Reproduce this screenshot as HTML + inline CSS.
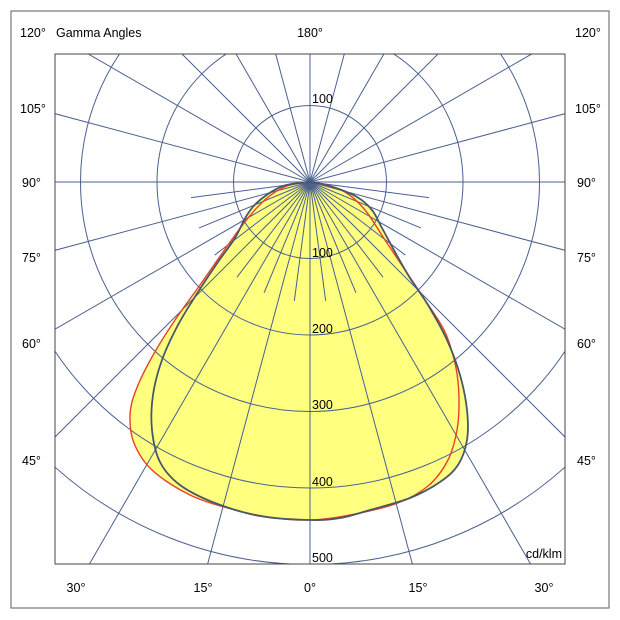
<!DOCTYPE html>
<html><head><meta charset="utf-8"><style>
html,body{margin:0;padding:0;background:#fff;overflow:hidden;width:620px;height:620px;}
svg{display:block;position:absolute;left:0;top:0;}
text{font-family:"Liberation Sans",Arial,sans-serif;font-size:12.5px;fill:#000;}
</style></head><body>
<svg id="s" width="620" height="620" xmlns="http://www.w3.org/2000/svg">
<rect x="11" y="11" width="598" height="597" fill="#fff" stroke="#777" stroke-width="1.2"/>
<defs><clipPath id="c"><rect x="55" y="54" width="510" height="510"/></clipPath></defs>
<g id="fill" clip-path="url(#c)"></g>
<g id="grid" clip-path="url(#c)" stroke="#4a6190" stroke-width="1" fill="none"></g>
<g id="curves" clip-path="url(#c)" fill="none"></g>
<rect x="55" y="54" width="510" height="510" fill="none" stroke="#444" stroke-width="1"/>
<text x="20" y="37">120°</text><text x="56" y="37">Gamma Angles</text>
<text x="310" y="37" text-anchor="middle">180°</text>
<text x="575" y="37">120°</text>
<text x="20" y="113">105°</text><text x="575" y="113">105°</text>
<text x="22" y="187">90°</text><text x="577" y="187">90°</text>
<text x="22" y="262">75°</text><text x="577" y="262">75°</text>
<text x="22" y="348">60°</text><text x="577" y="348">60°</text>
<text x="22" y="465">45°</text><text x="577" y="465">45°</text>
<text x="76" y="592" text-anchor="middle">30°</text>
<text x="203" y="592" text-anchor="middle">15°</text>
<text x="310" y="592" text-anchor="middle">0°</text>
<text x="418" y="592" text-anchor="middle">15°</text>
<text x="544" y="592" text-anchor="middle">30°</text>
<text x="312" y="103">100</text>
<text x="312" y="257">100</text>
<text x="312" y="333">200</text>
<text x="312" y="409">300</text>
<text x="312" y="486">400</text>
<text x="312" y="562">500</text>
<text x="562" y="558" text-anchor="end">cd/klm</text>
</svg>
<script>
var NS="http://www.w3.org/2000/svg",cx=310,cy=182,R=76.5;
function el(p,t,a){var e=document.createElementNS(NS,t);for(var k in a)e.setAttribute(k,a[k]);p.appendChild(e);return e;}
var g=document.getElementById('grid');
for(var k=1;k<=5;k++)el(g,'circle',{cx:cx,cy:cy,r:R*k});
for(var a=-180;a<180;a+=7.5){var full=(Math.abs(a)%15==0);
 if(!full && Math.abs(a)>=90)continue;
 var r=full?700:120;var t=a*Math.PI/180;
 el(g,'line',{x1:cx,y1:cy,x2:cx+r*Math.sin(t),y2:cy+r*Math.cos(t)});}
function path(p){var d="M"+p[0][0]+","+p[0][1];
 for(var i=0;i<p.length-1;i++){var p0=p[Math.max(0,i-1)],p1=p[i],p2=p[i+1],p3=p[Math.min(p.length-1,i+2)];
 d+=" C"+(p1[0]+(p2[0]-p0[0])/6)+","+(p1[1]+(p2[1]-p0[1])/6)+" "+(p2[0]-(p3[0]-p1[0])/6)+","+(p2[1]-(p3[1]-p1[1])/6)+" "+p2[0]+","+p2[1];}
 return d+"Z";}
var blue=[[310,182],[283,186],[260,200],[247,215],[235,238],[218,262],[198,292],[178,325],[162,360],[153,395],[152,430],[160,462],[180,485],[215,503],[260,516],[310,520],[340,518],[370,510],[410,498],[440,482],[458,465],[467,440],[467,410],[460,375],[447,340],[428,305],[410,278],[395,252],[382,228],[372,210],[357,197],[330,186],[310,182]];
var red=[[310,182],[287,186],[267,198],[248,218],[228,245],[200,285],[175,320],[152,357],[136,390],[130,415],[134,443],[152,470],[190,495],[235,510],[275,518],[310,520],[345,516],[395,504],[428,486],[448,460],[457,430],[459,400],[456,368],[445,332],[425,300],[405,270],[385,240],[365,210],[345,192],[323,185],[310,182]];
var f=document.getElementById('fill'),c=document.getElementById('curves');
el(f,'path',{d:path(red),fill:"#ffff80"});el(f,'path',{d:path(blue),fill:"#ffff80"});
el(c,'path',{d:path(red),stroke:"#e8402a","stroke-width":1.4});
el(c,'path',{d:path(blue),stroke:"#485868","stroke-width":1.8});
</script>
</body></html>
